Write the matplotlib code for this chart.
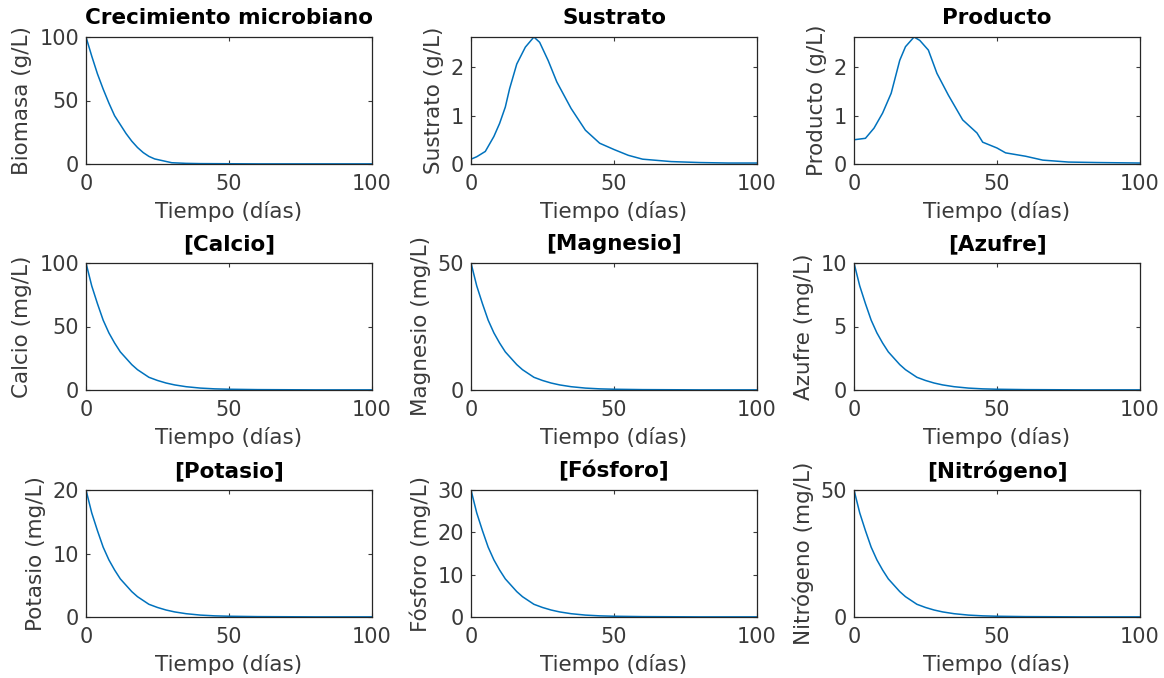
import matplotlib
matplotlib.use("Agg")
from matplotlib import pyplot as plt

# time points (days)
t_bio = [0, 2, 4, 6, 8, 10, 12, 14, 16, 18, 20, 22, 24, 26, 28, 30, 35, 40, 50, 60, 70, 80, 90, 100]
biomasa = [100, 85, 71, 59, 48, 38, 31, 24, 18, 13, 9, 6, 4, 3, 2, 1, 0.5, 0.3, 0.2, 0.1, 0.1, 0.1, 0.1, 0.1]

t_sus = [0, 2, 5, 8, 10, 12, 13.5, 16, 19, 22, 24, 27, 30, 35, 40, 45, 50, 55, 60, 70, 80, 90, 100]
sustrato = [0.1, 0.15, 0.26, 0.57, 0.84, 1.18, 1.56, 2.07, 2.42, 2.63, 2.52, 2.14, 1.7, 1.15, 0.7,
            0.43, 0.3, 0.18, 0.1, 0.05, 0.03, 0.02, 0.02]

t_pro = [0, 4, 7, 10, 13, 16, 18, 21, 23, 26, 29, 33, 38, 43, 45, 50, 53, 60, 66, 75, 85, 100]
producto = [0.5, 0.53, 0.74, 1.05, 1.46, 2.14, 2.42, 2.62, 2.55, 2.35, 1.87, 1.42, 0.91, 0.64,
            0.45, 0.33, 0.23, 0.16, 0.08, 0.04, 0.03, 0.02]

t_min = [0, 2, 4, 6, 8, 10, 12, 14, 16, 18, 20, 22, 25, 28, 31, 35, 40, 45, 50, 60, 70, 80, 90, 100]
calcio = [100, 82, 68, 55, 45, 37, 30, 25, 20, 16, 13, 10, 7.5, 5.5, 4, 2.6, 1.5, 0.9, 0.6, 0.3,
          0.2, 0.1, 0.1, 0.1]
magnesio = [50, 41, 34, 27.5, 22.5, 18.5, 15, 12.5, 10, 8, 6.5, 5, 3.75, 2.75, 2, 1.3, 0.75, 0.45,
            0.3, 0.15, 0.1, 0.05, 0.05, 0.05]
azufre = [10, 8.2, 6.8, 5.5, 4.5, 3.7, 3.0, 2.5, 2.0, 1.6, 1.3, 1.0, 0.75, 0.55, 0.4, 0.26, 0.15,
          0.09, 0.06, 0.03, 0.02, 0.01, 0.01, 0.01]
potasio = [20, 16.4, 13.6, 11, 9, 7.4, 6, 5, 4, 3.2, 2.6, 2, 1.5, 1.1, 0.8, 0.52, 0.3, 0.18, 0.12,
           0.06, 0.04, 0.02, 0.02, 0.02]
fosforo = [30, 24.6, 20.4, 16.5, 13.5, 11.1, 9, 7.5, 6, 4.8, 3.9, 3, 2.25, 1.65, 1.2, 0.78, 0.45,
           0.27, 0.18, 0.09, 0.06, 0.03, 0.03, 0.03]
nitrogeno = [50, 41, 34, 27.5, 22.5, 18.5, 15, 12.5, 10, 8, 6.5, 5, 3.75, 2.75, 2, 1.3, 0.75, 0.45,
             0.3, 0.15, 0.1, 0.05, 0.05, 0.05]

# (title, ylabel, t, y, ymax, yticks)
panels = [
    ("Crecimiento microbiano", "Biomasa (g/L)", t_bio, biomasa, 100, [0, 50, 100]),
    ("Sustrato", "Sustrato (g/L)", t_sus, sustrato, max(sustrato), [0, 1, 2]),
    ("Producto", "Producto (g/L)", t_pro, producto, max(producto), [0, 1, 2]),
    ("[Calcio]", "Calcio (mg/L)", t_min, calcio, 100, [0, 50, 100]),
    ("[Magnesio]", "Magnesio (mg/L)", t_min, magnesio, 50, [0, 50]),
    ("[Azufre]", "Azufre (mg/L)", t_min, azufre, 10, [0, 5, 10]),
    ("[Potasio]", "Potasio (mg/L)", t_min, potasio, 20, [0, 10, 20]),
    ("[Fósforo]", "Fósforo (mg/L)", t_min, fosforo, 30, [0, 10, 20, 30]),
    ("[Nitrógeno]", "Nitrógeno (mg/L)", t_min, nitrogeno, 50, [0, 50]),
]

lefts = [86, 471, 854]
tops = [37, 263, 490]
W, H = 1164, 678
aw, ah = 286, 127

fig = plt.figure(figsize=(W / 100, H / 100), dpi=100)
grey = "#3a3a3a"
for i, (title, ylab, t, y, ymax, yt) in enumerate(panels):
    r, c = divmod(i, 3)
    ax = fig.add_axes([lefts[c] / W, 1 - (tops[r] + ah) / H, aw / W, ah / H])
    ax.plot(t, y, color="#0072BD", lw=1.1)
    ax.set_xlim(0, 100)
    ax.set_ylim(0, ymax)
    ax.set_xticks([0, 50, 100])
    ax.set_yticks(yt)
    ax.set_title(title, fontsize=15.5, fontweight="bold", pad=9)
    ax.set_xlabel("Tiempo (días)", fontsize=15.5, color=grey, labelpad=5)
    ax.set_ylabel(ylab, fontsize=15.5, color=grey, labelpad=5)
    ax.tick_params(direction="in", length=3, labelsize=15, colors=grey,
                   top=True, right=True, pad=5)
    ax.tick_params(axis="x", pad=7)
    for s in ax.spines.values():
        s.set_color("#262626")
        s.set_linewidth(0.9)

fig.savefig("out.png", dpi=100)
